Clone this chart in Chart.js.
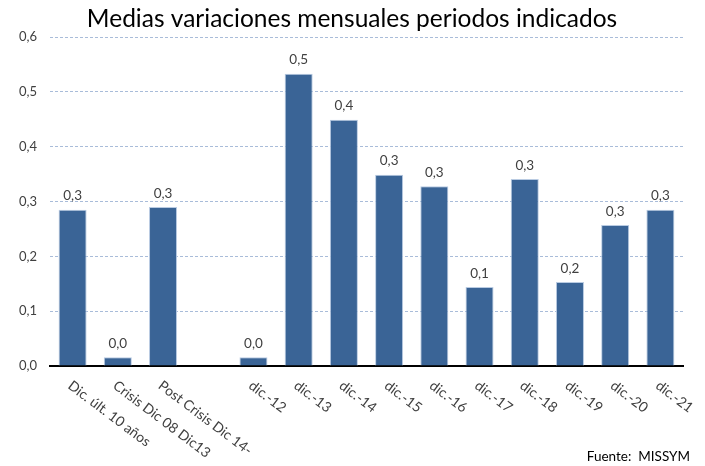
<!DOCTYPE html>
<html>
<head>
<meta charset="utf-8">
<script src="https://cdn.jsdelivr.net/npm/chart.js@4/dist/chart.umd.min.js"></script>
<style>
  html, body { margin: 0; padding: 0; background: #fff; }
  #wrap { width: 705px; height: 466px; position: relative; }
</style>
</head>
<body>
<div id="wrap"><canvas id="chart"></canvas></div>
<script>
// data
const categories = ['Dic. últ. 10 años', 'Crisis Dic 08 Dic13', 'Post Crisis Dic 14-', '',
  'dic.-12', 'dic.-13', 'dic.-14', 'dic.-15', 'dic.-16', 'dic.-17', 'dic.-18', 'dic.-19', 'dic.-20', 'dic.-21'];
const values = [0.285, 0.016, 0.29, null,
  0.016, 0.533, 0.449, 0.349, 0.328, 0.144, 0.341, 0.153, 0.257, 0.285];
const yTicks = [0, 0.1, 0.2, 0.3, 0.4, 0.5, 0.6];
const title = 'Medias variaciones mensuales periodos indicados';
const source = 'Fuente:  MISSYM';

const FONT = 'Lato, "Open Sans", sans-serif';
const fmt = v => v.toFixed(1).replace('.', ',');

// values over the bars
const barLabels = {
  id: 'barLabels',
  afterDatasetsDraw(chart) {
    const ctx = chart.ctx;
    const meta = chart.getDatasetMeta(0);
    ctx.save();
    ctx.font = '13.5px ' + FONT;
    ctx.fillStyle = '#404040';
    ctx.textAlign = 'center';
    ctx.textBaseline = 'bottom';
    meta.data.forEach((bar, i) => {
      if (values[i] == null) return;
      ctx.fillText(fmt(values[i]), bar.x, bar.y - 7);
    });
    ctx.restore();
  }
};

// title, slanted category labels (reading down to the right) and source note
const extras = {
  id: 'extras',
  afterDraw(chart) {
    const ctx = chart.ctx;
    const x = chart.scales.x;
    const bottom = chart.chartArea.bottom;
    ctx.save();
    ctx.font = '24.5px ' + FONT;
    ctx.fillStyle = '#000';
    ctx.textAlign = 'center';
    ctx.textBaseline = 'middle';
    ctx.fillText(title, 352, 19);

    ctx.font = '14px ' + FONT;
    ctx.fillStyle = '#404040';
    ctx.textAlign = 'left';
    categories.forEach((c, i) => {
      if (!c) return;
      const px = x.getPixelForValue(i);
      ctx.save();
      ctx.translate(px - 3, bottom + 18);
      ctx.rotate(37 * Math.PI / 180);
      ctx.fillText(c, 0, 0);
      ctx.restore();
    });

    ctx.fillStyle = '#000';
    ctx.textAlign = 'right';
    ctx.font = '13.5px ' + FONT;
    ctx.fillText(source, 690, 457);
    ctx.restore();
  }
};

new Chart(document.getElementById('chart'), {
  type: 'bar',
  data: {
    labels: categories,
    datasets: [{
      data: values,
      backgroundColor: '#3a6496',
      borderColor: '#b9cbe2',
      borderWidth: 1,
      barPercentage: 0.62,
      categoryPercentage: 1
    }]
  },
  options: {
    responsive: true,
    maintainAspectRatio: false,
    animation: false,
    layout: { padding: { left: 0, right: 22, top: 37, bottom: 0 } },
    plugins: {
      legend: { display: false },
      tooltip: { enabled: false },
      title: { display: false }
    },
    scales: {
      x: {
        ticks: { display: false },
        grid: { display: false },
        border: { color: '#000', width: 2 },
        afterFit(scale) { scale.height = 100; }
      },
      y: {
        min: 0,
        max: 0.6,
        afterBuildTicks(scale) { scale.ticks = yTicks.map(v => ({ value: v })); },
        ticks: {
          color: '#404040',
          font: { family: FONT, size: 13 },
          padding: 13,
          callback: v => fmt(v)
        },
        grid: { color: '#a9bcd9', lineWidth: 1, drawTicks: false },
        border: { display: false, dash: [3, 2] },
        afterFit(scale) { scale.width = 50; }
      }
    }
  },
  plugins: [barLabels, extras]
});
</script>
</body>
</html>
